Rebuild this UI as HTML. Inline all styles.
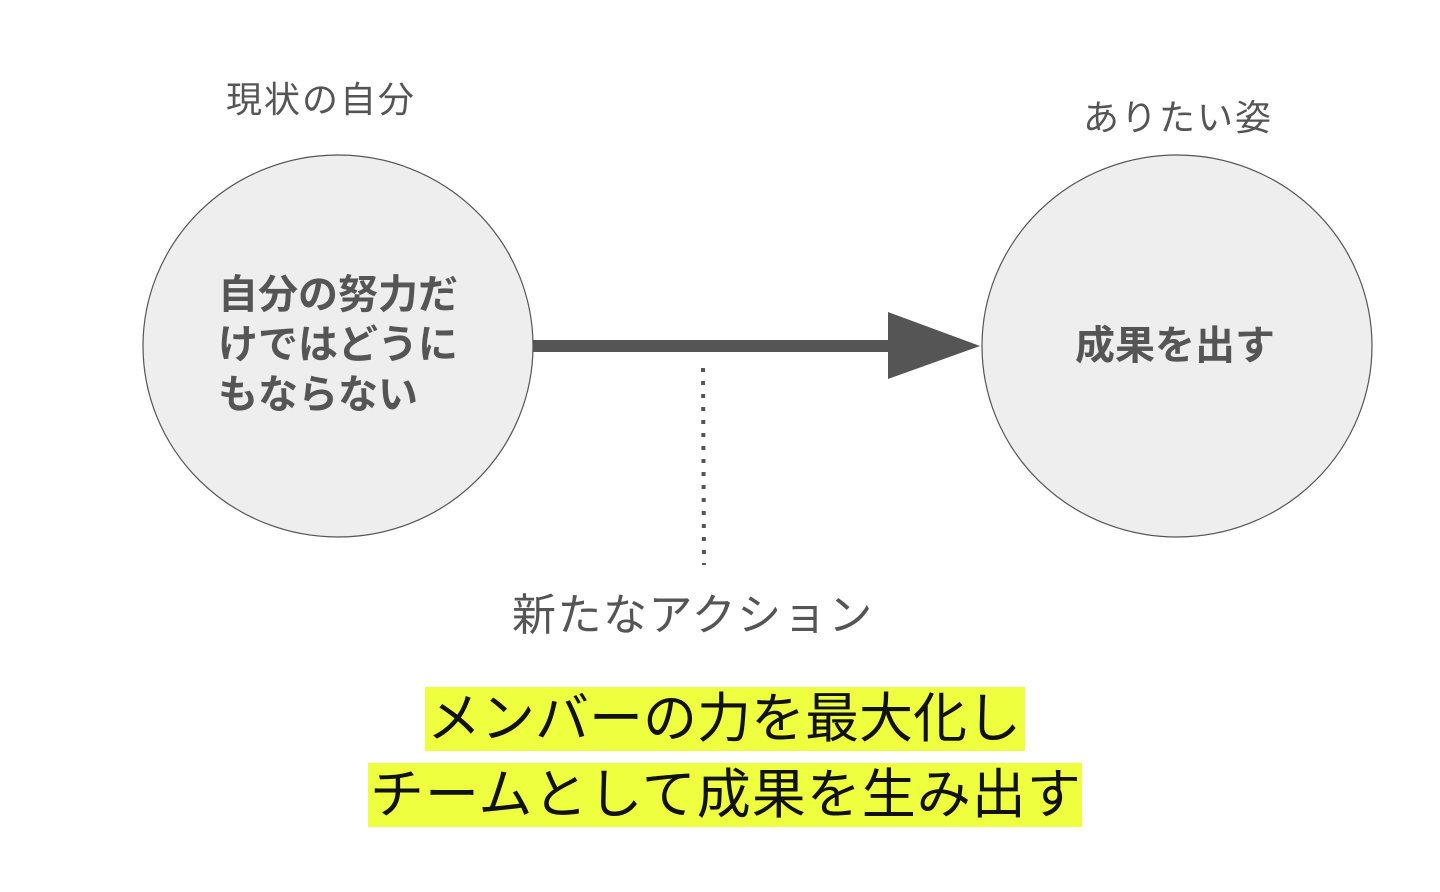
<!DOCTYPE html>
<html><head><meta charset="utf-8"><style>
html,body{margin:0;padding:0;background:#fff;}
body{width:1440px;height:892px;position:relative;overflow:hidden;font-family:"Liberation Sans","Noto Sans CJK JP",sans-serif;}
.t{position:absolute;white-space:nowrap;line-height:1;}
.lbl{color:#555;font-size:36px;}
.in{color:#555;font-size:40px;font-weight:bold;}
.hl{position:absolute;background:#edff3e;color:#111;font-size:54px;line-height:64px;white-space:nowrap;padding:0 2px;}
</style></head><body>
<svg width="1440" height="892" style="position:absolute;left:0;top:0">
<ellipse cx="338" cy="346" rx="195" ry="191" fill="#eeeeee" stroke="#555" stroke-width="1.2"/>
<ellipse cx="1177" cy="346" rx="195" ry="191" fill="#eeeeee" stroke="#555" stroke-width="1.2"/>
<line x1="533" y1="346" x2="892" y2="346" stroke="#555" stroke-width="12"/>
<polygon points="888,312 980,346 888,379" fill="#555"/>
<line x1="703" y1="368" x2="704" y2="565" stroke="#555" stroke-width="4" stroke-dasharray="4,9"/>
</svg>
<div class="t lbl" style="left:226px;top:82px;letter-spacing:2px">現状の自分</div>
<div class="t lbl" style="left:1083px;top:100px;letter-spacing:2px">ありたい姿</div>
<div class="t lbl" style="left:512px;top:594px;font-size:44px;letter-spacing:1.5px">新たなアクション</div>
<div class="t in" style="left:218px;top:275px">自分の努力だ</div>
<div class="t in" style="left:218px;top:325px">けではどうに</div>
<div class="t in" style="left:218px;top:375px">もならない</div>
<div class="t in" style="left:1075px;top:326px">成果を出す</div>
<div class="hl" style="left:425px;top:687px;width:596px;">メンバーの力を最大化し</div>
<div class="hl" style="left:368px;top:763px;width:710px;letter-spacing:1px">チームとして成果を生み出す</div>
</body></html>
